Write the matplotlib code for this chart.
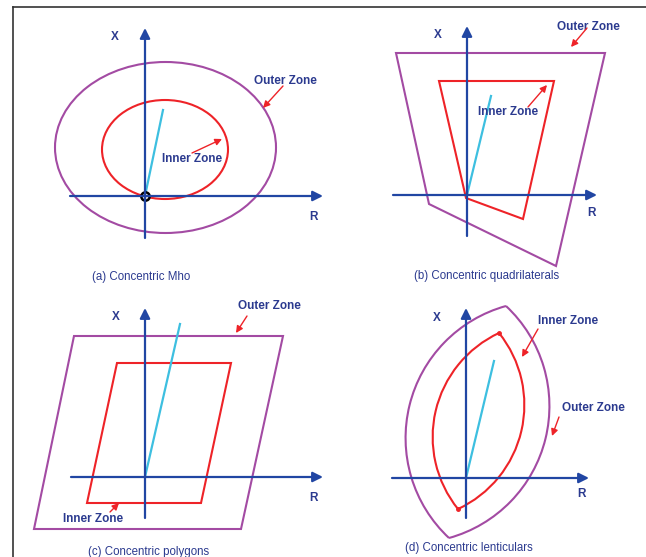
import matplotlib
matplotlib.use("Agg")
import matplotlib.pyplot as plt
from matplotlib.patches import Ellipse, Polygon, Arc
import numpy as np

plt.rcParams['font.family'] = ['Liberation Sans', 'DejaVu Sans']

# panel data, local units (R to the right, X up), origin at axes crossing
captions = ["(a) Concentric Mho", "(b) Concentric quadrilaterals",
            "(c) Concentric polygons", "(d) Concentric lenticulars"]

# axis extents: (r_min, r_max, x_min, x_max)
axis_ext = [(-75, 178, -42, 168), (-74, 130, -41, 169),
            (-74, 178, -41, 169), (-74, 123, -40, 170)]

# impedance line end points
line_end = [(18, 86), (24, 99), (35, 153), (28, 117)]

# (a) mho circles: centre r, centre x, width, height
mho_outer = (20.5, 48.5, 221, 171)
mho_inner = (20, 46.5, 126, 99)

# (b) quadrilaterals
quad_outer_r = [-71, 138, 89, -38]
quad_outer_x = [142, 142, -71, -9]
quad_inner_r = [-28, 87, 56, -1]
quad_inner_x = [114, 114, -24, -3]

# (c) polygons
poly_outer_r = [-71, 138, 96, -111]
poly_outer_x = [141, 141, -52, -52]
poly_inner_r = [-28, 86, 56, -58]
poly_inner_x = [114, 114, -26, -26]

# (d) lenses: top vertex, bottom vertex, bulge of each arc
lens_outer = ((40, 172), (-17, -60), 70)
lens_inner = ((33, 145), (-8, -31), 44)

# labels: text, centre, arrow start, arrow tip
zone_labels = [
    [("Outer Zone", (140, 115), (138, 110), (118, 88)),
     ("Inner Zone", (47, 37), (47, 43), (77, 57))],
    [("Outer Zone", (121, 168), (120, 167), (104, 148)),
     ("Inner Zone", (41, 83), (61, 88), (80, 110))],
    [("Outer Zone", (124, 171), (102, 161), (91, 144)),
     ("Inner Zone", (-52, -42), (-35, -35), (-26, -26))],
    [("Inner Zone", (102, 157), (72, 149), (56, 121)),
     ("Outer Zone", (127, 70), (93, 61), (86, 42))],
]
x_lab = [(-30, 159), (-29, 160), (-29, 160), (-29, 160)]
r_lab = [(168, -21), (124, -18), (169, -21), (115, -16)]
cap_pos = [(-4, -81), (20, -81), (4, -75), (3, -70)]

# pixel position of each panel origin in the 646x557 image
origins = [(145, 196), (467, 195), (145, 477), (466, 478)]

W, H = 646, 557
axis_col = "#2146a3"
text_col = "#2b3a8f"
purple = "#a34ba3"
red = "#ee2328"
cyan = "#3dbfe0"

fig = plt.figure(figsize=(W / 100, H / 100), dpi=100)

# frame: top and left lines only
bg = fig.add_axes([13 / W, 0, 1 - 13 / W, (H - 7) / H])
bg.set_xticks([])
bg.set_yticks([])
bg.spines['right'].set_visible(False)
bg.spines['bottom'].set_visible(False)
for s in ['top', 'left']:
    bg.spines[s].set_color("#333333")
    bg.spines[s].set_linewidth(1.2)
bg.patch.set_alpha(0)


def lens_arcs(ax, top, bot, bulge, col):
    top = np.array(top, float)
    bot = np.array(bot, float)
    mid = (top + bot) / 2
    d = bot - top
    c = np.hypot(*d)
    rad = (c * c / 4 + bulge * bulge) / (2 * bulge)
    half = np.degrees(np.arcsin(c / 2 / rad))
    for sgn in (1, -1):
        perp = sgn * np.array([d[1], -d[0]]) / c
        cen = mid - perp * (rad - bulge)
        ang = np.degrees(np.arctan2(perp[1], perp[0]))
        ax.add_patch(Arc(cen, 2 * rad, 2 * rad, theta1=ang - half, theta2=ang + half,
                         ec=col, lw=1.5))


for i in range(4):
    ox, oy = origins[i]
    ax = fig.add_axes([0, 0, 1, 1])
    ax.set_xlim(-ox, W - ox)
    ax.set_ylim(oy - H, oy)
    ax.axis("off")
    ax.patch.set_alpha(0)

    # zone shapes
    if i == 0:
        for (cr, cx, w, h), col in [(mho_outer, purple), (mho_inner, red)]:
            ax.add_patch(Ellipse((cr, cx), w, h, fill=False, ec=col, lw=1.5))
    elif i == 1:
        ax.add_patch(Polygon(np.column_stack([quad_outer_r, quad_outer_x]), closed=True,
                             fill=False, ec=purple, lw=1.5))
        ax.add_patch(Polygon(np.column_stack([quad_inner_r, quad_inner_x]), closed=True,
                             fill=False, ec=red, lw=1.5))
    elif i == 2:
        ax.add_patch(Polygon(np.column_stack([poly_outer_r, poly_outer_x]), closed=True,
                             fill=False, ec=purple, lw=1.5))
        ax.add_patch(Polygon(np.column_stack([poly_inner_r, poly_inner_x]), closed=True,
                             fill=False, ec=red, lw=1.5))
    else:
        lens_arcs(ax, *lens_outer, purple)
        lens_arcs(ax, *lens_inner, red)
        ax.plot([lens_inner[0][0], lens_inner[1][0]], [lens_inner[0][1], lens_inner[1][1]],
                'o', ms=2.5, color=red, ls="none")

    # R and X axes
    r0, r1, x0, x1 = axis_ext[i]
    ax.annotate("", xy=(r1, 0), xytext=(r0, 0),
                arrowprops=dict(arrowstyle="-|>", color=axis_col, lw=1.6,
                                mutation_scale=15, shrinkA=0, shrinkB=0))
    ax.annotate("", xy=(0, x1), xytext=(0, x0),
                arrowprops=dict(arrowstyle="-|>", color=axis_col, lw=1.6,
                                mutation_scale=15, shrinkA=0, shrinkB=0))

    # impedance line
    ax.plot([0, line_end[i][0]], [0, line_end[i][1]], color=cyan, lw=1.6)
    if i == 0:
        ax.plot(0, 0, 'o', ms=6, mfc="#e8e8e8", mec="black", mew=1.8)

    ax.text(*x_lab[i], "X", color=text_col, fontsize=8.5, fontweight="bold",
            ha="center", va="center")
    ax.text(*r_lab[i], "R", color=text_col, fontsize=8.5, fontweight="bold",
            ha="center", va="center")

    for txt, pos, a0, a1 in zone_labels[i]:
        ax.text(*pos, txt, color=text_col, fontsize=8.5, fontweight="bold",
                ha="center", va="center")
        ax.annotate("", xy=a1, xytext=a0,
                    arrowprops=dict(arrowstyle="-|>", color=red, lw=1.0,
                                    mutation_scale=10, shrinkA=0, shrinkB=0))

    ax.text(*cap_pos[i], captions[i], color=text_col, fontsize=8.3,
            ha="center", va="center")

fig.savefig("out.png", dpi=100)
